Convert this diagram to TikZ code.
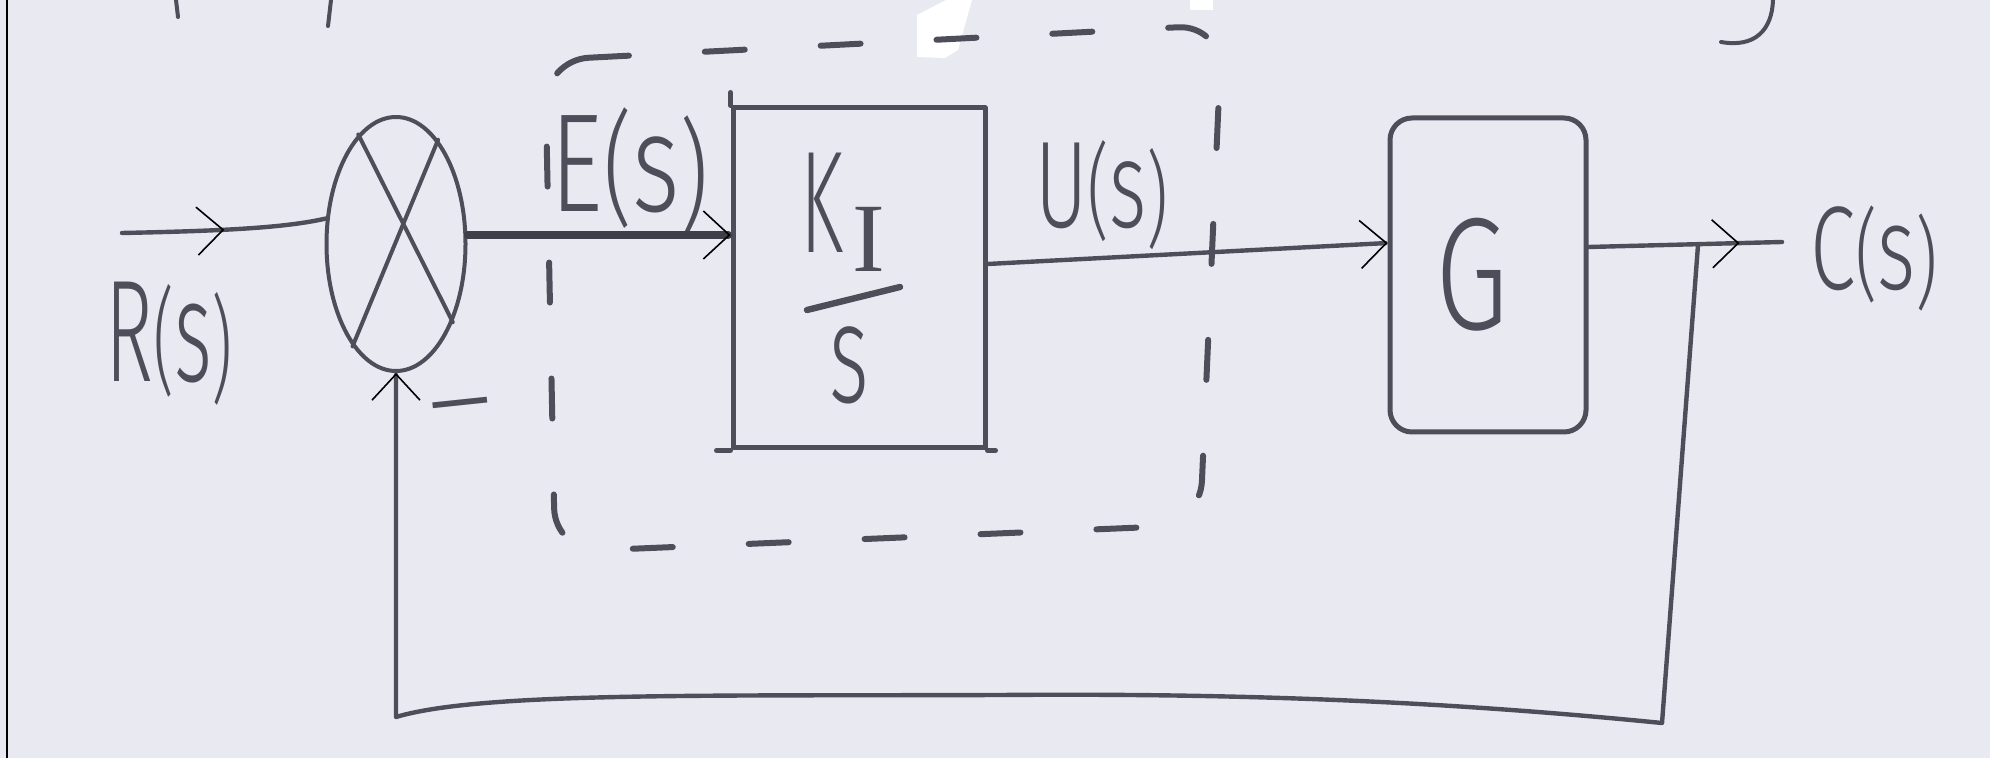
\documentclass[tikz,border=0pt]{standalone}
\usepackage{fontspec}
\setmainfont{Fira Sans Light}
\newfontfamily\serifI{Liberation Serif}
\usetikzlibrary{arrows.meta,shapes.geometric,decorations.markings}
\definecolor{bg}{RGB}{233,233,242}
\definecolor{ink}{RGB}{78,78,90}
\newcommand\hwtext[3]{{\fontsize{#1}{#1}\selectfont\scalebox{#2}[1]{#3}}}
% signal label: #1 letter size, #2 x scale, #3 letter, #4 bracket size
\newcommand\sig[4]{{\fontsize{#1}{#1}\selectfont\scalebox{#2}[1]{#3{\fontsize{#4}{#4}\selectfont(}s{\fontsize{#4}{#4}\selectfont\raisebox{-4pt}{)}}}}}
\tikzset{
  tipA/.tip={Straight Barb[length=13pt,width=24pt,line width=0.8pt,color=black]},
  wire/.style={draw=ink, line width=2.2pt},
  ewire/.style={draw=ink!80!black, line width=3.6pt},
  midarrow/.style={postaction={decorate,decoration={markings,mark=at position #1 with {\arrow{tipA}}}}},
  lbl/.style={inner sep=0pt, outer sep=0pt, text=ink, anchor=base},
  blockbox/.style={draw=ink, line width=2.5pt, inner sep=0pt},
  sumnode/.style={ellipse, draw=ink, line width=2pt, inner sep=0pt, minimum width=69.5pt, minimum height=127pt},
  dashbox/.style={draw=ink, line width=3pt, dash pattern=on 20pt off 38pt, rounded corners=22pt},
  stroke/.style={draw=ink, line width=2.3pt}
}
\begin{document}
\begin{tikzpicture}[x=0.5pt,y=-0.5pt,line cap=round,line join=round]
% background
\fill[bg] (0,0) rectangle (1990,758);
\useasboundingbox (0,0) rectangle (1990,758);
\draw[black, line width=1.3pt, line cap=butt] (7,0) -- (7,758);
% white glare patches
\fill[white] (917,15) -- (946,0) -- (972,0) -- (958,50) -- (945,58) -- (917,57) -- cycle;
\fill[white] (1190,0) rectangle (1213,10);
% cut-off strokes at the top
\draw[stroke, line width=2pt] (176,0) -- (178,17);
\draw[stroke, line width=2pt] (331,0) -- (328,26);
\draw[stroke, line width=2pt] (1773,0) .. controls (1772,30) and (1755,48) .. (1721,42);
% dashed enclosure
\draw[dashbox] (545,60) -- (1222,25) -- (1200,525) -- (555,552) -- cycle;
% blocks
\node[sumnode] (sum) at (396,244) {};
\draw[stroke, line width=2pt] (sum.109) -- (sum.-54);
\draw[stroke, line width=2pt] (sum.68) -- (sum.-113);
\node[blockbox, minimum width=126pt, minimum height=170pt] (K) at (859,278) {};
\draw[blockbox] (K.north west) -- ++(0,-13);
\draw[blockbox] ([xshift=-7pt]K.south west) -- (K.south west);
\draw[blockbox] ([xshift=4pt]K.south east) -- (K.south east);
\node[blockbox, rounded corners=11pt, minimum width=98pt, minimum height=157pt] (G) at (1488,275) {};
% block contents
\node[lbl, anchor=base west] (Klab) at (800,253) {\hwtext{72.6}{0.54}{K}\kern5pt\raisebox{-9.5pt}{\fontsize{49}{49}\selectfont\serifI I}};
\draw[draw=ink, line width=3.2pt] (807,310) -- (900,287);
\node[lbl] (slab) at (849,403) {\hwtext{71}{0.6}{s}};
\node[lbl] (Glab) at (1472,330) {\hwtext{80}{0.74}{G}};
% signal labels
\node[lbl] (Rlab) at (169,382) {\sig{72.6}{0.56}{R}{58}};
\node[lbl] (Elab) at (630,212) {\sig{70}{0.73}{E}{62}};
\node[lbl] (Ulab) at (1102,228) {\sig{61.7}{0.65}{U}{52}};
\node[lbl] (Clab) at (1874,290) {\sig{59.5}{0.69}{C}{50}};
\node[lbl, anchor=center, rotate=6] (minus) at (462,420) {\hwtext{57}{1.35}{−}};
% connectors
\coordinate (rin) at (122,233);
\coordinate (cout) at (1782,242);
\coordinate (tap) at (1698,245);
\coordinate (fbR) at (1662,723);
\coordinate (fbM) at (1000,695);
\coordinate (fbL) at (396,717);
\draw[wire, midarrow=0.5] (rin) .. controls (220,231) and (285,228) .. (sum.160);
\draw[ewire, -{tipA}] ([yshift=4.5pt]sum.east) -- ([yshift=4.5pt]sum.east -| K.west);
\draw[wire, -{tipA}] ([yshift=7pt]K.east) -- ([yshift=16pt]G.west);
\draw[wire, midarrow=0.78] ([yshift=14pt]G.east) -- (cout);
\draw[wire, -{tipA}] (tap) -- (fbR) .. controls (1450,702) and (1250,693) .. (fbM) .. controls (700,696) and (480,692) .. (fbL) -- (sum.south);
\end{tikzpicture}
\end{document}
